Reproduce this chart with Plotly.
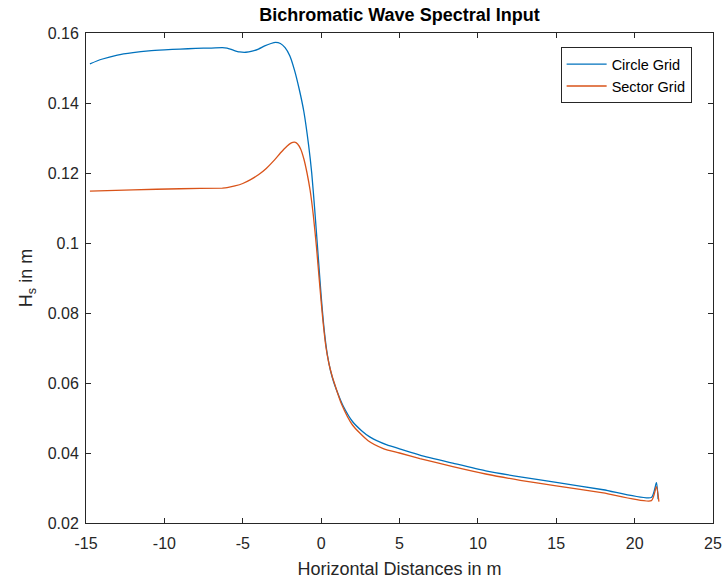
import plotly.graph_objects as go

# Circle Grid (blue)
circle_x = [-14.75, -14, -13, -12, -11, -10, -9, -8, -7, -6.3, -6.0, -5.6, -5.2, -4.8, -4.4, -4.0, -3.6,
            -3.2, -2.9, -2.6, -2.3, -2.0, -1.7, -1.4, -1.1, -0.8, -0.6, -0.4, -0.2, 0.0, 0.2, 0.4, 0.6,
            0.8, 1.0, 1.4, 2.0, 2.6, 3.1, 4.2, 5.0, 6.3, 8.4, 10.5, 12.7, 15.0, 18.0, 21.07, 21.39, 21.5]
circle_y = [0.1512, 0.1525, 0.1537, 0.1544, 0.1549, 0.1552, 0.1554, 0.1556, 0.1557, 0.1558, 0.1557, 0.1551,
            0.1546, 0.1545, 0.1548, 0.1554, 0.1563, 0.1570, 0.1573, 0.1570, 0.1558, 0.1535, 0.1494, 0.1440,
            0.1375, 0.1280, 0.1200, 0.1090, 0.0970, 0.0850, 0.0750, 0.0680, 0.0635, 0.0603, 0.0578, 0.0535,
            0.0490, 0.0463, 0.0446, 0.0423, 0.0412, 0.0394, 0.0371, 0.0349, 0.0332, 0.0316, 0.0295, 0.0273,
            0.0315, 0.0268]

# Sector Grid (orange)
sector_x = [-14.75, -12, -9, -6.3, -6.0, -5.5, -5.0, -4.5, -4.0, -3.5, -3.0, -2.6, -2.2, -1.9, -1.7, -1.5,
            -1.3, -1.1, -0.9, -0.7, -0.5, -0.3, -0.1, 0.1, 0.3, 0.5, 0.7, 0.9, 1.3, 2.0, 3.0, 4.0, 5.0, 6.3,
            8.4, 10.5, 12.7, 15.0, 18.0, 21.07, 21.39, 21.55]
sector_y = [0.1148, 0.1152, 0.1155, 0.1157, 0.1158, 0.1163, 0.1170, 0.1181, 0.1195, 0.1213, 0.1236, 0.1257,
            0.1276, 0.1286, 0.1288, 0.1283, 0.1268, 0.1240, 0.1200, 0.1150, 0.1080, 0.0990, 0.0885, 0.0785,
            0.0705, 0.0655, 0.0620, 0.0592, 0.0540, 0.0480, 0.0435, 0.0412, 0.0400, 0.0384, 0.0361, 0.0340,
            0.0322, 0.0306, 0.0286, 0.0264, 0.0304, 0.0261]

x_ticks = [-15, -10, -5, 0, 5, 10, 15, 20, 25]
y_ticks = [0.02, 0.04, 0.06, 0.08, 0.1, 0.12, 0.14, 0.16]
y_tick_text = ["0.02", "0.04", "0.06", "0.08", "0.1", "0.12", "0.14", "0.16"]

FONT = "Liberation Sans, Arial, sans-serif"
INK = "#262626"

fig = go.Figure()
fig.add_trace(go.Scatter(x=circle_x, y=circle_y, mode="lines", name="Circle Grid",
                         line=dict(color="#0072BD", width=1.3, shape="spline", smoothing=0.6)))
fig.add_trace(go.Scatter(x=sector_x, y=sector_y, mode="lines", name="Sector Grid",
                         line=dict(color="#D95319", width=1.3, shape="spline", smoothing=0.6)))

axis_common = dict(showline=True, linecolor=INK, linewidth=1, mirror="ticks", ticks="inside",
                   ticklen=5, tickcolor=INK, showgrid=False, zeroline=False, automargin=False,
                   tickfont=dict(family=FONT, size=16, color=INK))

fig.update_layout(
    width=723, height=580,
    margin=dict(l=86, r=10, t=33, b=57),
    paper_bgcolor="white", plot_bgcolor="white",
    title=dict(text="<b>Bichromatic Wave Spectral Input</b>", x=0.5525, xanchor="center",
               y=0.975, yanchor="middle", automargin=False,
               font=dict(family=FONT, size=18, color="black")),
    xaxis=dict(range=[-15, 25], tickvals=x_ticks, ticktext=[str(v) for v in x_ticks],
               ticklabelstandoff=6,
               title=dict(text="Horizontal Distances in m", standoff=11,
                          font=dict(family=FONT, size=18, color=INK)), **axis_common),
    yaxis=dict(range=[0.02, 0.16], tickvals=y_ticks, ticktext=y_tick_text,
               ticklabelstandoff=3,
               title=dict(text="H<sub>s</sub> in m", standoff=10,
                          font=dict(family=FONT, size=18, color=INK)), **axis_common),
    legend=dict(x=0.757, y=0.971, xanchor="left", yanchor="top", bgcolor="white",
                bordercolor=INK, borderwidth=1, font=dict(family=FONT, size=14.5, color="black"),
                tracegroupgap=0, itemwidth=40),
    showlegend=True,
)

fig.write_html("out.html")
